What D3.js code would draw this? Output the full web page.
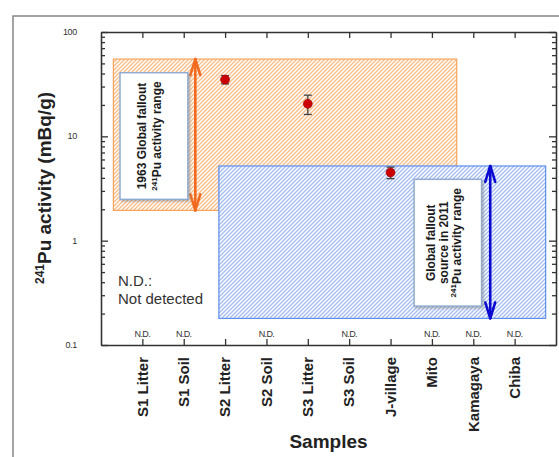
<!DOCTYPE html>
<html>
<head>
<meta charset="utf-8">
<script src="https://cdn.jsdelivr.net/npm/d3@7"></script>
<style>
  html, body { margin: 0; padding: 0; background: #fff; }
  svg { display: block; font-family: "Liberation Sans", Arial, sans-serif; }
</style>
</head>
<body>
<svg id="chart" width="559" height="457"></svg>
<script>
// Sample sites along the x axis
const categories = ["S1 Litter", "S1 Soil", "S2 Litter", "S2 Soil", "S3 Litter",
                    "S3 Soil", "J-village", "Mito", "Kamagaya", "Chiba"];
// 241Pu activity (mBq/g); null = not detected
const activity = [null, null, 35, null, 20.5, null, 4.5, null, null, null];
const activityErr = [null, null, 3.2, null, 4.3, null, 0.57, null, null, null];

// Reference ranges (mBq/g)
const range1963 = [1.95, 55];
const range2011 = [0.18, 5.2];
// Horizontal extent of the shaded ranges, in category units
const span1963 = [0.3, 8.6];
const span2011 = [2.85, 10.75];
// Double-arrow positions, in category units
const arrowX1963 = 2.28;
const arrowX2011 = 9.41;
// Caption boxes: [x0, x1] in category units, [low, high] in mBq/g
const caption1963Span = [0.46, 2.10], caption1963Range = [2.49, 40.7];
const caption2011Span = [7.57, 9.20], caption2011Range = [0.236, 3.87];

// Axis ticks
const yMajor = [0.1, 1, 10, 100];
const yMinor = [0.2,0.3,0.4,0.5,0.6,0.7,0.8,0.9,2,3,4,5,6,7,8,9,20,30,40,50,60,70,80,90];
const yTickLabels = ["0.1", "1", "10", "100"];

const svg = d3.select("#chart");
const margin = { left: 101, right: 556, top: 32, bottom: 345 };

const x = d3.scaleLinear().domain([0, categories.length + 1]).range([margin.left, margin.right]);
const y = d3.scaleLog().domain([0.1, 100]).range([margin.bottom, margin.top]);

// Outer frame
svg.append("rect")
  .attr("x", 13).attr("y", 16).attr("width", 600).attr("height", 500)
  .attr("fill", "none").attr("stroke", "#858585").attr("stroke-width", 1.5);

// Hatch patterns and caption shadow
const defs = svg.append("defs");
function hatch(id, color) {
  const s = 4;
  const p = defs.append("pattern")
    .attr("id", id).attr("patternUnits", "userSpaceOnUse")
    .attr("width", s).attr("height", s);
  p.append("rect").attr("width", s).attr("height", s).attr("fill", "#fff");
  p.append("path")
    .attr("d", `M-1,1 L1,-1 M0,${s} L${s},0 M${s - 1},${s + 1} L${s + 1},${s - 1}`)
    .attr("stroke", color).attr("stroke-width", 1.35).attr("fill", "none");
}
hatch("hatch1963", "#fbbd88");
hatch("hatch2011", "#a3bdf2");
const shadow = defs.append("filter").attr("id", "shadow")
  .attr("x", "-20%").attr("y", "-20%").attr("width", "140%").attr("height", "140%");
shadow.append("feDropShadow").attr("dx", 1.5).attr("dy", 1.5)
  .attr("stdDeviation", 1).attr("flood-color", "#777").attr("flood-opacity", 0.55);

// Shaded ranges
const g = svg.append("g");
g.append("rect")
  .attr("x", x(span1963[0])).attr("width", x(span1963[1]) - x(span1963[0]))
  .attr("y", y(range1963[1])).attr("height", y(range1963[0]) - y(range1963[1]))
  .attr("fill", "url(#hatch1963)").attr("stroke", "#f7a25a").attr("stroke-width", 1.2);
g.append("rect")
  .attr("x", x(span2011[0])).attr("width", x(span2011[1]) - x(span2011[0]))
  .attr("y", y(range2011[1])).attr("height", y(range2011[0]) - y(range2011[1]))
  .attr("fill", "url(#hatch2011)").attr("stroke", "#5c8ff0").attr("stroke-width", 1.2);

// Double arrows spanning each range
function doubleArrow(xv, range, color) {
  const cx = x(xv), y0 = y(range[1]), y1 = y(range[0]);
  const hw = 5, hl = 16;
  const a = g.append("g").attr("stroke", color).attr("stroke-width", 2.6)
    .attr("fill", "none").attr("stroke-linecap", "round").attr("stroke-linejoin", "round");
  a.append("line").attr("x1", cx).attr("x2", cx).attr("y1", y0).attr("y2", y1);
  a.append("polyline").attr("points", `${cx - hw},${y0 + hl} ${cx},${y0} ${cx + hw},${y0 + hl}`);
  a.append("polyline").attr("points", `${cx - hw},${y1 - hl} ${cx},${y1} ${cx + hw},${y1 - hl}`);
}
doubleArrow(arrowX1963, range1963, "#f26a1f");
doubleArrow(arrowX2011, range2011, "#0a0ad0");

// Caption boxes with rotated text
function caption(span, range, lines, step) {
  const x0 = x(span[0]), x1 = x(span[1]);
  const yTop = y(range[1]), yBot = y(range[0]);
  g.append("rect")
    .attr("x", x0).attr("y", yTop).attr("width", x1 - x0).attr("height", yBot - yTop)
    .attr("fill", "#fff").attr("stroke", "#8eaad0").attr("stroke-width", 1.4)
    .attr("filter", "url(#shadow)");
  const cx = (x0 + x1) / 2, cy = (yTop + yBot) / 2;
  lines.forEach((parts, i) => {
    const lx = cx + (i - (lines.length - 1) / 2) * step;
    const t = g.append("text")
      .attr("transform", `translate(${lx},${cy}) rotate(-90)`)
      .attr("text-anchor", "middle").attr("dy", "0.35em")
      .attr("font-size", 12).attr("font-weight", "bold").attr("fill", "#1a1a1a");
    parts.forEach(p => {
      if (p.sup) {
        t.append("tspan").attr("font-size", 8).attr("dy", -4.5).text(p.text);
      } else {
        t.append("tspan").attr("dy", p.after ? 4.5 : 0).text(p.text);
      }
    });
  });
}
caption(caption1963Span, caption1963Range, [
  [{ text: "1963 Global fallout" }],
  [{ text: "241", sup: true }, { text: "Pu activity range", after: true }]
], 15);
caption(caption2011Span, caption2011Range, [
  [{ text: "Global fallout" }],
  [{ text: "source in 2011" }],
  [{ text: "241", sup: true }, { text: "Pu activity range", after: true }]
], 13);

// Axes
const axisColor = "#333";
function styleAxis(sel) {
  sel.selectAll("path, line").attr("stroke", axisColor).attr("stroke-width", 1.3);
  sel.selectAll("text").remove();
}
const catIdx = d3.range(1, categories.length + 1);

svg.append("g").attr("transform", `translate(0,${margin.bottom})`)
  .call(d3.axisBottom(x).tickValues(catIdx).tickSize(-6).tickSizeOuter(0)).call(styleAxis);
svg.append("g").attr("transform", `translate(0,${margin.top})`)
  .call(d3.axisTop(x).tickValues(catIdx).tickSize(-6).tickSizeOuter(0)).call(styleAxis);
svg.append("g").attr("transform", `translate(${margin.left},0)`)
  .call(d3.axisLeft(y).tickValues(yMajor).tickSize(-7).tickSizeOuter(0)).call(styleAxis);
svg.append("g").attr("transform", `translate(${margin.left},0)`)
  .call(d3.axisLeft(y).tickValues(yMinor).tickSize(-4).tickSizeOuter(0)).call(styleAxis);
svg.append("g").attr("transform", `translate(${margin.right},0)`)
  .call(d3.axisRight(y).tickValues(yMajor).tickSize(-7).tickSizeOuter(0)).call(styleAxis);
svg.append("g").attr("transform", `translate(${margin.right},0)`)
  .call(d3.axisRight(y).tickValues(yMinor).tickSize(-4).tickSizeOuter(0)).call(styleAxis);

// Y tick labels
svg.append("g").selectAll("text").data(yMajor).join("text")
  .attr("x", 77).attr("y", d => y(d)).attr("dy", "0.35em")
  .attr("text-anchor", "end").attr("font-size", 9).attr("fill", "#333")
  .attr("letter-spacing", -0.3)
  .text((d, i) => yTickLabels[i]);

// Category labels
svg.append("g").selectAll("text").data(categories).join("text")
  .attr("transform", (d, i) => `translate(${x(i + 1)},357) rotate(-90)`)
  .attr("text-anchor", "end").attr("dy", "0.35em")
  .attr("font-size", 15).attr("font-weight", "bold").attr("fill", "#222")
  .text(d => d);

// N.D. markers for non-detects
svg.append("g").selectAll("text")
  .data(activity.map((v, i) => ({ v, i })).filter(d => d.v === null)).join("text")
  .attr("x", d => x(d.i + 1)).attr("y", 337)
  .attr("text-anchor", "middle").attr("font-size", 9).attr("letter-spacing", -0.6)
  .attr("fill", "#333").text("N.D.");

// Legend note
const note = svg.append("text").attr("x", 118).attr("font-size", 15).attr("fill", "#333");
note.append("tspan").attr("x", 118).attr("y", 286).text("N.D.:");
note.append("tspan").attr("x", 118).attr("y", 304).text("Not detected");

// Measured points with error bars
const pts = activity.map((v, i) => ({ v, e: activityErr[i], i })).filter(d => d.v !== null);
const pg = svg.append("g");
pts.forEach(d => {
  const cx = x(d.i + 1), yHi = y(d.v + d.e), yLo = y(d.v - d.e);
  const eb = pg.append("g").attr("stroke", "#444").attr("stroke-width", 1.3);
  eb.append("line").attr("x1", cx).attr("x2", cx).attr("y1", yHi).attr("y2", yLo);
  eb.append("line").attr("x1", cx - 4).attr("x2", cx + 4).attr("y1", yHi).attr("y2", yHi);
  eb.append("line").attr("x1", cx - 4).attr("x2", cx + 4).attr("y1", yLo).attr("y2", yLo);
  pg.append("circle").attr("cx", cx).attr("cy", y(d.v)).attr("r", 4.5)
    .attr("fill", "#cc0000").attr("stroke", "#9a0000").attr("stroke-width", 0.6);
});

// Axis titles
const yt = svg.append("text")
  .attr("transform", `translate(51,188) rotate(-90)`)
  .attr("text-anchor", "middle").attr("font-size", 19).attr("font-weight", "bold").attr("fill", "#222");
yt.append("tspan").attr("font-size", 12).attr("dy", -7).text("241");
yt.append("tspan").attr("dy", 7).text("Pu activity (mBq/g)");

svg.append("text").attr("x", (margin.left + margin.right) / 2).attr("y", 448)
  .attr("text-anchor", "middle").attr("font-size", 19).attr("font-weight", "bold")
  .attr("fill", "#222").text("Samples");
</script>
</body>
</html>
